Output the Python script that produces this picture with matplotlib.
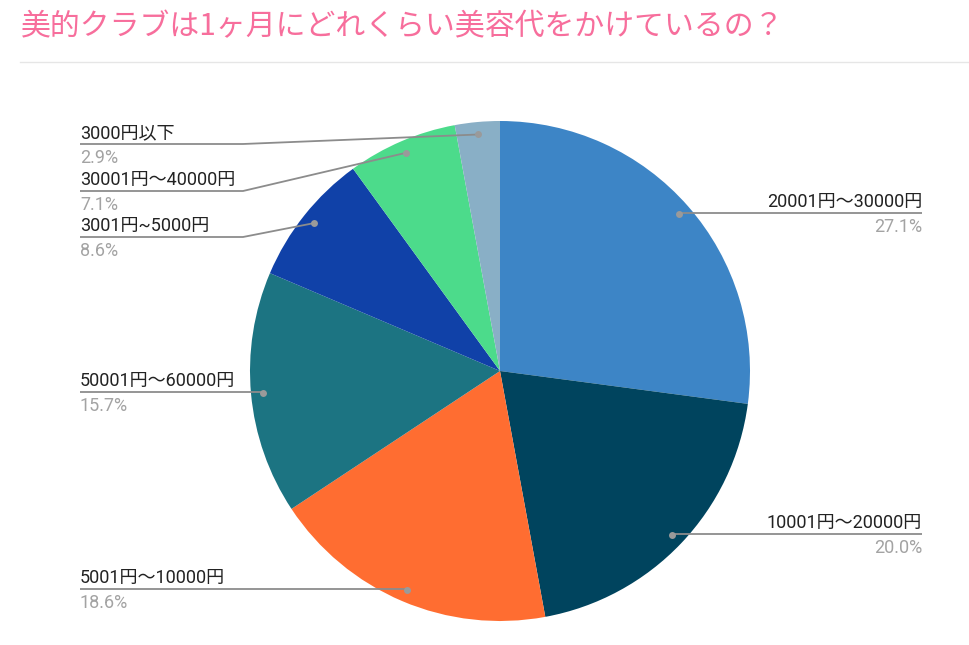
import numpy as np
import matplotlib.pyplot as plt

plt.rcParams['font.family'] = ['Noto Sans CJK JP', 'DejaVu Sans']

title = '美的クラブは1ヶ月にどれくらい美容代をかけているの？'
labels = ['20001円〜30000円', '10001円〜20000円', '5001円〜10000円',
          '50001円〜60000円', '3001円~5000円', '30001円〜40000円', '3000円以下']
shares = [27.1, 20.0, 18.6, 15.7, 8.6, 7.1, 2.9]
colors = ['#3d85c6', '#00445e', '#ff6d31', '#1c7482', '#1041a8', '#4cdb8b', '#89afc6']

W, H = 970, 645
fig = plt.figure(figsize=(W / 100, H / 100), dpi=100)
ax = fig.add_axes([0, 0, 1, 1])

cx, cy, r = 500, H - 371, 250
ax.pie(shares, colors=colors, startangle=90, counterclock=False,
       center=(cx, cy), radius=r, frame=True)
ax.set_xlim(0, W)
ax.set_ylim(0, H)
ax.set_aspect('equal')
ax.axis('off')

fig.text(21 / W, 1 - 27 / H, title, color='#f76e9c', fontsize=21.5, va='center', ha='left')
fig.add_artist(plt.Line2D([20 / W, 1], [1 - 62 / H, 1 - 62 / H], color='#e6e6e6', lw=1))

# label rows (pixel y of leader line) -- right side at x=922, left at x=80
line_y = {0: 213, 1: 534, 2: 589, 3: 392, 4: 237, 5: 191, 6: 144}
lab_font = ['Roboto', 'Noto Sans CJK JP', 'DejaVu Sans']
lc = '#8c8c8c'
cum = 0
for i, (lab, s) in enumerate(zip(labels, shares)):
    mid = (cum + s / 2) / 100 * 2 * np.pi
    cum += s
    dx = cx + 0.95 * r * np.sin(mid)
    dy = cy + 0.95 * r * np.cos(mid)
    ly = H - line_y[i]
    if dx > cx:
        xs, ys = [dx, 922], [ly, ly]
        tx, ha = 922, 'right'
    else:
        if abs(dy - ly) < 3:
            xs, ys = [80, dx], [ly, ly]
        else:
            xs, ys = [80, 243, dx], [ly, ly, dy]
        tx, ha = 80, 'left'
    ax.plot(xs, ys, color=lc, lw=1.3, solid_capstyle='butt')
    ax.plot(dx, dy, 'o', color='#9a9a9a', ms=5, mec='none')
    ax.text(tx, ly + 6, lab, ha=ha, va='baseline', fontsize=13,
            color='#222222', family=lab_font)
    ax.text(tx, ly - 19, f'{s:.1f}%', ha=ha, va='baseline', fontsize=13,
            color='#a3a3a3', family=lab_font)

fig.savefig('out.png', dpi=100)
